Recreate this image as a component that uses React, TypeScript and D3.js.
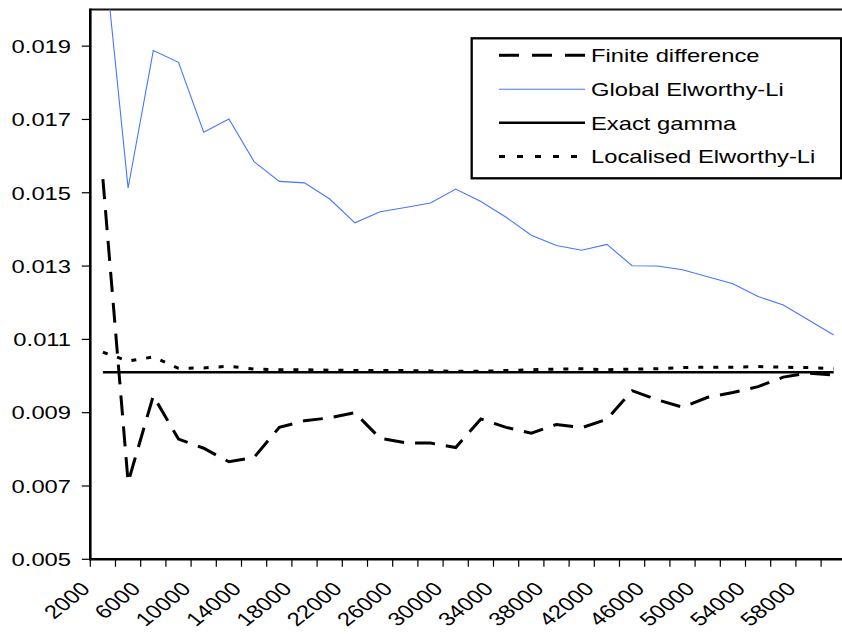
import React from "react";
import * as d3 from "d3";

const categories = [
  "2000", "4000", "6000", "8000", "10000", "12000", "14000", "16000", "18000", "20000",
  "22000", "24000", "26000", "28000", "30000", "32000", "34000", "36000", "38000", "40000",
  "42000", "44000", "46000", "48000", "50000", "52000", "54000", "56000", "58000", "60000",
];

const finiteDifference = [
  0.01537, 0.0071, 0.00946, 0.00828, 0.00803, 0.00766, 0.00778, 0.0086, 0.00878, 0.00886,
  0.009, 0.0083, 0.00818, 0.00817, 0.00805, 0.00883, 0.0086, 0.00844, 0.00868, 0.00859,
  0.00882, 0.0096, 0.00935, 0.00915, 0.00942, 0.00955, 0.00971, 0.00997, 0.01008, 0.01003,
];

const globalEL = [
  0.0219, 0.01513, 0.01888, 0.01856, 0.01665, 0.01701, 0.01585, 0.01531, 0.01527, 0.01483,
  0.01418, 0.01448, 0.0146, 0.01472, 0.0151, 0.01476, 0.01433, 0.01384, 0.01356, 0.01343,
  0.01359, 0.01301, 0.013, 0.0129, 0.01271, 0.01252, 0.01217, 0.01194, 0.01153, 0.01112,
];

const exactGamma = [
  0.0101, 0.0101, 0.0101, 0.0101, 0.0101, 0.0101, 0.0101, 0.0101, 0.0101, 0.0101,
  0.0101, 0.0101, 0.0101, 0.0101, 0.0101, 0.0101, 0.0101, 0.0101, 0.0101, 0.0101,
  0.0101, 0.0101, 0.0101, 0.0101, 0.0101, 0.0101, 0.0101, 0.0101, 0.0101, 0.0101,
];

const localisedEL = [
  0.01065, 0.01041, 0.01052, 0.01021, 0.01022, 0.01027, 0.01019, 0.01017, 0.01017, 0.01016,
  0.01015, 0.01015, 0.01015, 0.01014, 0.01013, 0.01013, 0.01015, 0.01017, 0.01019, 0.0102,
  0.01017, 0.01019, 0.0102, 0.01023, 0.01024, 0.01024, 0.01026, 0.01024, 0.01023, 0.0102,
];

const yTicks = [0.005, 0.007, 0.009, 0.011, 0.013, 0.015, 0.017, 0.019];
const xLabels = [
  "2000", "6000", "10000", "14000", "18000", "22000", "26000", "30000",
  "34000", "38000", "42000", "46000", "50000", "54000", "58000",
];

const seriesNames = ["Finite difference", "Global Elworthy-Li", "Exact gamma", "Localised Elworthy-Li"];

const W = 842;
const H = 634;
const left = 90.3;
const right = 846.3;
const top = 9.5;
const bottom = 559.3;
const SX = 1.25;
const FONT = "'Liberation Sans', Arial, sans-serif";
const BLUE = "#4676ff";

export default function App() {
  const x = d3.scaleBand<string>().domain(categories).range([left, right]).padding(0);
  const y = d3.scaleLinear().domain([0.005, 0.02]).range([bottom, top]);
  const cx = (c: string) => (x(c) as number) + x.bandwidth() / 2;

  const line = (vals: number[]) =>
    d3
      .line<number>()
      .x((_, i) => cx(categories[i]))
      .y((v) => y(v))(vals) as string;

  const styles = [
    { stroke: "#000", width: 3, dash: "20,11" },
    { stroke: BLUE, width: 1.1, dash: undefined },
    { stroke: "#000", width: 2.5, dash: undefined },
    { stroke: "#000", width: 3, dash: "5,10" },
  ];
  const data = [finiteDifference, globalEL, exactGamma, localisedEL];

  const bandEdges = categories.map((c) => x(c) as number).concat([right]);

  const legX = 471.7;
  const legY = 38.3;
  const legW = 369.5;
  const legH = 140;
  const rowY = [55.3, 89.3, 122.8, 156.5];

  return (
    <svg
      width={W}
      height={H}
      style={{ position: "absolute", left: 0, top: 0, background: "#fff" }}
    >
      <defs>
        <clipPath id="plotClip">
          <rect x={left} y={top} width={right - left} height={bottom - top} />
        </clipPath>
      </defs>
      <rect x={0} y={0} width={W} height={H} fill="#fff" />

      {/* plot border top / right */}
      <line x1={left} x2={right} y1={top} y2={top} stroke="#111" strokeWidth={2.2} />
      <line x1={right} x2={right} y1={top} y2={bottom} stroke="#111" strokeWidth={2.2} />

      {/* series */}
      <g clipPath="url(#plotClip)">
        {data.map((vals, i) => (
          <path
            key={i}
            d={line(vals)}
            fill="none"
            stroke={styles[i].stroke}
            strokeWidth={styles[i].width}
            strokeDasharray={styles[i].dash}
            strokeLinejoin="miter"
          />
        ))}
      </g>

      {/* axes */}
      <line x1={left} x2={left} y1={top - 1} y2={bottom + 1} stroke="#000" strokeWidth={2.6} />
      <line x1={left - 1} x2={right} y1={bottom} y2={bottom} stroke="#000" strokeWidth={2.4} />

      {yTicks.map((t) => (
        <g key={t}>
          <line x1={left - 8.5} x2={left} y1={y(t)} y2={y(t)} stroke="#000" strokeWidth={1.2} />
          <text
            transform={`translate(71, ${y(t) + 6.8}) scale(${SX},1)`}
            textAnchor="end"
            fontFamily={FONT}
            fontSize={19}
            fill="#000"
          >
            {d3.format(".3f")(t)}
          </text>
        </g>
      ))}

      {bandEdges.map((e, i) => (
        <line key={i} x1={e} x2={e} y1={bottom} y2={bottom + 7.5} stroke="#000" strokeWidth={1.2} />
      ))}

      {xLabels.map((lab) => (
        <text
          key={lab}
          transform={`translate(${cx(lab) - 11.5}, ${590}) scale(${SX},1) rotate(-45)`}
          textAnchor="end"
          fontFamily={FONT}
          fontSize={19}
          fill="#000"
        >
          {lab}
        </text>
      ))}

      {/* legend */}
      <rect x={legX} y={legY} width={legW} height={legH} fill="#fff" stroke="#000" strokeWidth={2.3} />
      {seriesNames.map((name, i) => (
        <g key={name}>
          <line
            x1={499}
            x2={585}
            y1={rowY[i]}
            y2={rowY[i]}
            stroke={styles[i].stroke}
            strokeWidth={styles[i].width}
            strokeDasharray={i === 0 ? "20,13" : i === 3 ? "6,12" : undefined}
          />
          <text
            transform={`translate(591, ${rowY[i] + 6.8}) scale(${SX},1)`}
            fontFamily={FONT}
            fontSize={19}
            fill="#000"
          >
            {name}
          </text>
        </g>
      ))}
    </svg>
  );
}
